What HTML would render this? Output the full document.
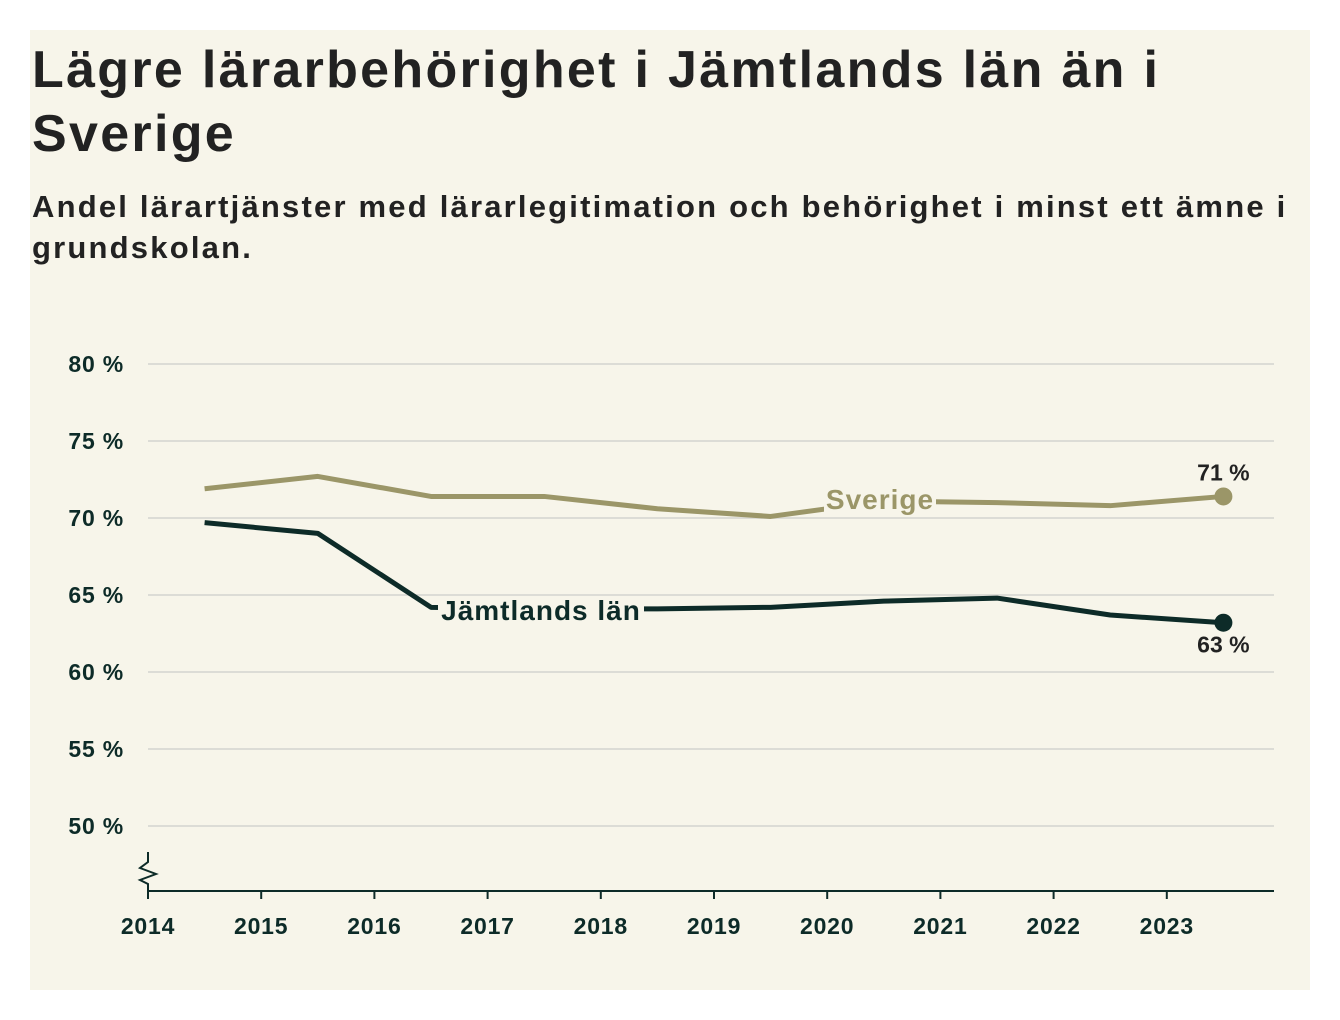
<!DOCTYPE html>
<html><head><meta charset="utf-8">
<style>
body{margin:0;background:#fff;width:1340px;height:1020px;overflow:hidden;font-family:"Liberation Sans","DejaVu Sans",sans-serif;}
#panel{position:absolute;left:30px;top:30px;width:1280px;height:960px;background:#f7f5ea;}
h1{position:absolute;left:0;top:8px;margin:0;font-size:52px;line-height:64px;letter-spacing:2.3px;font-weight:600;color:#222;width:1270px;white-space:nowrap;}
h2{position:absolute;left:0;top:156px;margin:0;font-size:31px;line-height:41px;letter-spacing:2.2px;font-weight:600;color:#222;width:1280px;white-space:nowrap;}
svg{position:absolute;left:0;top:0;}
</style></head><body>
<div id="panel"></div>
<div style="position:absolute;left:32px;top:30px;">
<h1>Lägre lärarbehörighet i Jämtlands län än i<br>Sverige</h1>
<h2>Andel lärartjänster med lärarlegitimation och behörighet i minst ett ämne i<br>grundskolan.</h2>
</div>
<svg id="chart" width="1340" height="1020"></svg>
<script>
const years=[2014,2015,2016,2017,2018,2019,2020,2021,2022,2023];
const yTicks=[50,55,60,65,70,75,80];
const sverige=[71.9,72.7,71.4,71.4,70.6,70.1,71.1,71.0,70.8,71.4];
const jamtland=[69.7,69.0,64.2,64.1,64.1,64.2,64.6,64.8,63.7,63.2];
const svg=document.getElementById('chart');
const NS='http://www.w3.org/2000/svg';
const x=v=>148+(v-2014)*113.2;
const y=v=>826-(v-50)*15.4;
function mk(t,a){const e=document.createElementNS(NS,t);for(const k in a)e.setAttribute(k,a[k]);svg.appendChild(e);return e;}
yTicks.forEach(t=>{
 const l=mk('line',{x1:148,x2:1274,y1:y(t),y2:y(t),stroke:'#dcdcd6','stroke-width':2});
 
 
 const tx=mk('text',{x:124,y:y(t)+8,'text-anchor':'end','font-size':23,'font-weight':600,'letter-spacing':0.8,fill:'#0d2b28'});
 tx.textContent=t+' %';
 
 
});
const ax=mk('line',{x1:148,x2:1274,y1:891,y2:891,stroke:'#0d2b28','stroke-width':2});


const br=mk('path',{d:'M148,852 L148,862 L140,868 L156,874 L140,880 L148,884 L148,891',fill:'none',stroke:'#0d2b28','stroke-width':2});


years.forEach(yr=>{
 const t=mk('line',{x1:x(yr),x2:x(yr),y1:891,y2:899,stroke:'#0d2b28','stroke-width':2});
 
 
 const tx=mk('text',{x:x(yr),y:934,'text-anchor':'middle','font-size':23,'font-weight':600,'letter-spacing':0.8,fill:'#0d2b28'});
 tx.textContent=yr;
 
 
});
function series(vals,color,name){
 const p=mk('polyline',{points:vals.map((v,i)=>x(years[i]+0.5)+','+y(v)).join(' '),fill:'none',stroke:color,'stroke-width':5,'stroke-linejoin':'round'});
 
 
 const n=vals.length-1;
 const c=mk('circle',{cx:x(years[n]+0.5),cy:y(vals[n]),r:9,fill:color});
 
 
}
series(sverige,'#9b9668','sverige');
series(jamtland,'#0d2b28','jamtland');
function label(txt,cx,cy,color,nm,w){
 const r=mk('rect',{x:cx-w/2,y:cy-20,width:w,height:28,fill:'#f7f5ea'});
 
 
 const t=mk('text',{x:cx,y:cy+2,'text-anchor':'middle','font-size':28,'font-weight':600,'letter-spacing':1,fill:color});
 t.textContent=txt;
 
 
}
label('Sverige',880,507,'#9b9668','sverige-label',112);
label('Jämtlands län',541,618,'#0d2b28','jamtland-label',206);
const v1=mk('text',{x:x(2023.5),y:y(sverige[9])-16,'text-anchor':'middle','font-size':23,'font-weight':600,fill:'#222'});
v1.textContent=Math.round(sverige[9])+' %';


const v2=mk('text',{x:x(2023.5),y:y(jamtland[9])+30,'text-anchor':'middle','font-size':23,'font-weight':600,fill:'#222'});
v2.textContent=Math.round(jamtland[9])+' %';


</script>
</body></html>
